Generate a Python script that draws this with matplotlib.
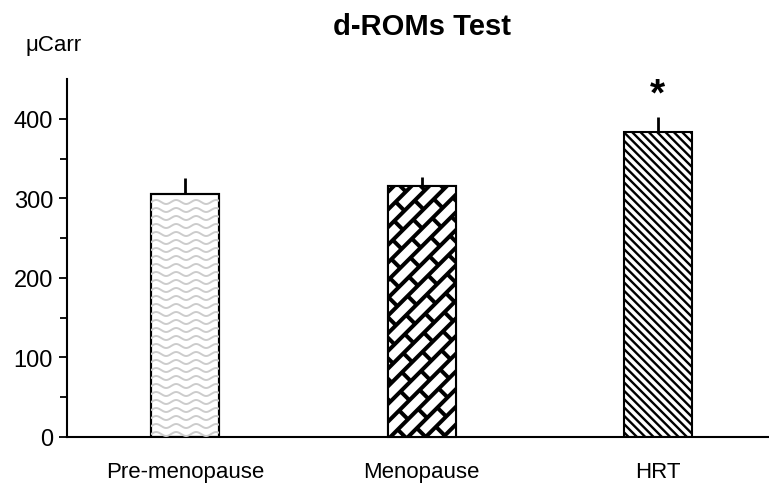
import numpy as np
import matplotlib
matplotlib.use("Agg")
import matplotlib.pyplot as plt
from matplotlib.patches import Rectangle
from matplotlib.lines import Line2D
from matplotlib.transforms import IdentityTransform

plt.rcParams['font.family'] = ['Liberation Sans', 'DejaVu Sans']
plt.rcParams['hatch.linewidth'] = 1.7

# data
groups = ["Pre-menopause", "Menopause", "HRT"]
means = [305, 316, 384]
errors = [21, 11, 18]
significant = [False, False, True]

fig = plt.figure(figsize=(7.69, 4.85), dpi=100)
ax = fig.add_axes([67 / 769, 1 - 438 / 485, 1 - 67 / 769, (438 - 80) / 485])

x = np.arange(len(groups))
bars = ax.bar(x, means, width=0.288, color="white", edgecolor="black", linewidth=1.5, zorder=2)
bars[2].set_hatch("\\\\\\\\")

ax.errorbar(x, means, yerr=[np.zeros(len(errors)), errors], fmt="none",
            ecolor="black", elinewidth=2, capsize=0, zorder=1)

for xi, m, e, s in zip(x, means, errors, significant):
    if s:
        ax.text(xi, m + e + 29, "*", ha="center", va="center", fontsize=28, fontweight="bold")

ax.set_xlim(-0.5, 2.47)
ax.set_ylim(0, 450)
ax.set_yticks([0, 100, 200, 300, 400])
ax.set_yticks(np.arange(50, 450, 100), minor=True)
ax.set_xticks(x)
ax.set_xticklabels(groups, fontsize=16)
ax.tick_params(axis="x", length=0, pad=17)
ax.tick_params(axis="y", which="major", length=6, width=1.3, labelsize=17, direction="out", pad=4)
ax.tick_params(axis="y", which="minor", length=5, width=1.3, direction="out")
for side in ["top", "right"]:
    ax.spines[side].set_visible(False)
for side in ["left", "bottom"]:
    ax.spines[side].set_linewidth(1.5)

fig.text(422 / 769, 1 - 27 / 485, "d-ROMs Test", ha="center", va="center", fontsize=21, fontweight="bold")
fig.text(54 / 769, 1 - 46 / 485, "\u03bcCarr", ha="center", va="center", fontsize=16)

# custom fills: wavy lines (pre-menopause) and diagonal bricks (menopause)
fig.canvas.draw()
idt = IdentityTransform()

bb = bars[0].get_window_extent()
t = np.linspace(bb.x0, bb.x1, 200)
yy = bb.y0 + 3
while yy < bb.y1:
    ln = Line2D(t, yy + 2.0 * np.sin(2 * np.pi * (t - bb.x0) / 20.0), transform=idt,
                color="#cccccc", linewidth=1.4, zorder=2.5)
    ln.set_clip_path(bars[0])
    fig.add_artist(ln)
    yy += 8.0

bb = bars[1].get_window_extent()
bg = Rectangle((bb.x0, bb.y0), bb.width, bb.height, transform=idt,
               facecolor="black", edgecolor="none", zorder=2.4)
bg.set_clip_path(bars[1])
fig.add_artist(bg)
L, W, g = 25.0, 8.5, 4.0
c, s = np.cos(np.pi / 4), np.sin(np.pi / 4)
ox, oy = bb.x0, bb.y0
for k in range(-40, 40):
    v0 = k * (W + g)
    for j in range(-40, 40):
        u0 = j * (L + g) + (k % 2) * (L + g) / 2
        px = ox + u0 * c - v0 * s
        py = oy + u0 * s + v0 * c
        if px < bb.x0 - 40 or px > bb.x1 + 40 or py < bb.y0 - 40 or py > bb.y1 + 40:
            continue
        r = Rectangle((px, py), L, W, angle=45, transform=idt,
                      facecolor="white", edgecolor="none", zorder=2.45)
        r.set_clip_path(bars[1])
        fig.add_artist(r)
# redraw outlines on top
ol = Rectangle((bb.x0, bb.y0), bb.width, bb.height, transform=idt,
               facecolor="none", edgecolor="black", linewidth=1.5, zorder=2.6)
fig.add_artist(ol)
ol0 = Rectangle(bars[0].get_xy(), bars[0].get_width(), bars[0].get_height(),
                facecolor="none", edgecolor="black", linewidth=1.5, zorder=2.6)
ax.add_patch(ol0)

fig.savefig("out.png", dpi=100)
